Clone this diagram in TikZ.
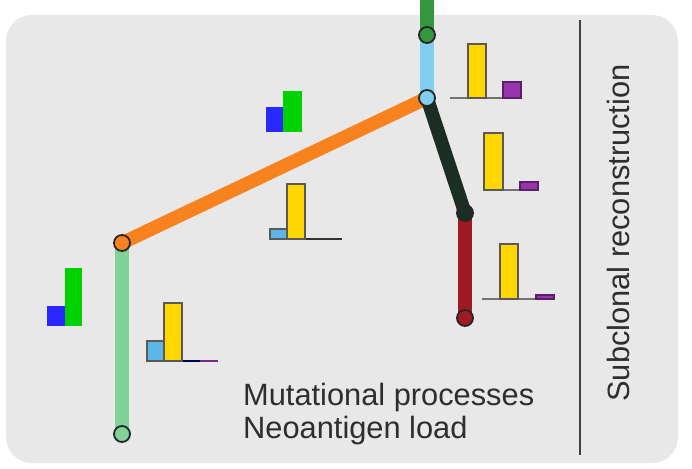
\documentclass[tikz,border=0pt]{standalone}
\usepackage{fontspec}
\setmainfont{Liberation Sans}

\definecolor{panelgray}{RGB}{232,232,232}
\definecolor{trunkgreen}{RGB}{52,150,62}
\definecolor{skyblue}{RGB}{130,206,240}
\definecolor{branchorange}{RGB}{247,130,30}
\definecolor{branchdark}{RGB}{26,46,36}
\definecolor{branchred}{RGB}{160,26,36}
\definecolor{leafgreen}{RGB}{128,210,150}
\definecolor{baryellow}{RGB}{255,214,0}
\definecolor{barpurple}{RGB}{152,52,172}
\definecolor{barblue}{RGB}{92,182,232}
\definecolor{sigblue}{RGB}{40,40,255}
\definecolor{siggreen}{RGB}{0,210,0}

\begin{document}
\begin{tikzpicture}[
  x=1pt, y=-1pt,
  font=\fontsize{30.8}{36}\selectfont,
  branch/.style={line width=13.5pt},
  joint/.style={
    circle,
    draw=black!85,
    line width=1.8pt,
    minimum size=16pt,
    inner sep=0pt
  },
  bar/.style={draw=black!65, line width=1.2pt},
  axis/.style={line width=2.4pt},
  caption/.style={inner sep=0pt, anchor=base west}
]

\useasboundingbox (0,0) rectangle (692,468);
\fill[panelgray, rounded corners=26pt] (6,15) rectangle (678,463);

% tree points
\coordinate (top) at (427,0);
\coordinate (trunk) at (427,35);
\coordinate (split) at (427,98);
\coordinate (mid) at (465,213);
\coordinate (tipred) at (465,318);
\coordinate (knee) at (122,243);
\coordinate (tipgreen) at (122,434);

% branches
\draw[branch, trunkgreen] (top) -- (trunk);
\draw[branch, skyblue] (trunk) -- (split);
\draw[branch, branchorange] (split) -- (knee);
\draw[branch, branchdark] (split) -- (mid);
\draw[branch, branchred] (mid) -- (tipred);
\draw[branch, leafgreen] (knee) -- (tipgreen);

\foreach \pt/\col in {trunk/trunkgreen, split/skyblue, mid/branchdark,
                      tipred/branchred, knee/branchorange, tipgreen/leafgreen}
  \node[joint, fill=\col] (\pt-dot) at (\pt) {};

% spectra
\draw[axis, black!55] (450,98) -- (503,98);
\draw[bar, fill=baryellow] (468,44) rectangle (486,98);
\draw[bar, fill=barpurple, draw=barpurple!60!black] (503,82) rectangle (521,98);

\draw[axis, black!55] (484,190) -- (520,190);
\draw[bar, fill=baryellow] (484,133) rectangle (503,190);
\draw[bar, fill=barpurple, draw=barpurple!60!black] (520,182) rectangle (538,190);

\draw[axis, black!55] (482,299) -- (536,299);
\draw[bar, fill=baryellow] (500,244) rectangle (518,299);
\draw[bar, fill=barpurple, draw=barpurple!60!black] (536,295) rectangle (554,299);

\draw[axis, black!80] (270,239) -- (342,239);
\draw[bar, fill=barblue] (270,229) rectangle (287,239);
\draw[bar, fill=baryellow] (287,184) rectangle (305,239);

\draw[axis, black!70!blue] (164,361) -- (200,361);
\draw[axis, barpurple!80!black] (200,361) -- (218,361);
\draw[bar, fill=barblue] (147,341) rectangle (164,361);
\draw[bar, fill=baryellow] (164,303) rectangle (182,361);

% signatures
\fill[sigblue] (266,107) rectangle (283,132);
\fill[siggreen] (283,91) rectangle (302,132);
\fill[sigblue] (47,306) rectangle (65,326);
\fill[siggreen] (65,268) rectangle (82,326);

% labels
\node[caption, text=black!82] (mutproc) at (243,405) {Mutational processes};
\node[caption, text=black!82] (neoload) at (243,438) {Neoantigen load};

\draw[line width=2pt, black!75] (580,20) -- (580,455);
\node[rotate=90, anchor=base, inner sep=0pt, text=black!82] (subclonal) at (629,233) {Subclonal reconstruction};

\end{tikzpicture}
\end{document}
